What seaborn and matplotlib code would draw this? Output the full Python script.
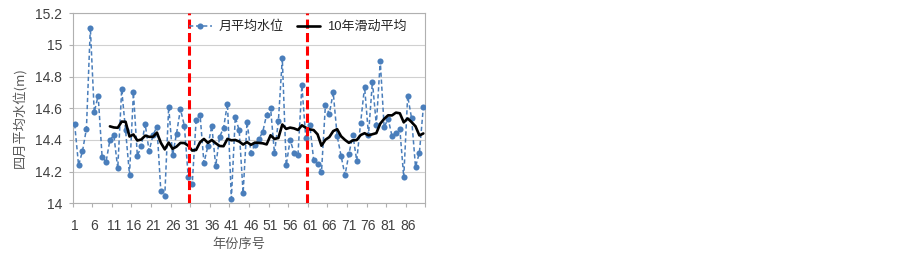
import numpy as np
import pandas as pd
import matplotlib
matplotlib.use("Agg")
import matplotlib.pyplot as plt
from matplotlib.ticker import FixedLocator
import seaborn as sns

# ---- data ----
years = list(range(1, 91))
water_level = [
    14.50, 14.24, 14.33, 14.47, 15.11, 14.575, 14.68, 14.295, 14.26, 14.40,
    14.43, 14.22, 14.72, 14.46, 14.18, 14.70, 14.30, 14.36, 14.50, 14.33,
    14.43, 14.485, 14.075, 14.045, 14.61, 14.305, 14.44, 14.595, 14.49, 14.165,
    14.12, 14.525, 14.56, 14.255, 14.36, 14.49, 14.235, 14.42, 14.475, 14.63,
    14.03, 14.545, 14.46, 14.065, 14.515, 14.32, 14.37, 14.405, 14.45, 14.56,
    14.605, 14.315, 14.52, 14.915, 14.24, 14.40, 14.32, 14.305, 14.745, 14.41,
    14.495, 14.275, 14.25, 14.196, 14.62, 14.565, 14.70, 14.425, 14.30, 14.178,
    14.31, 14.432, 14.27, 14.51, 14.737, 14.432, 14.768, 14.495, 14.899, 14.48,
    14.535, 14.425, 14.446, 14.468, 14.164, 14.678, 14.537, 14.23, 14.32, 14.608,
]
ma_window = 10
split_years = [30.2, 60.4]
xtick_labels = list(range(1, 87, 5))
yticks = [14.0, 14.2, 14.4, 14.6, 14.8, 15.0, 15.2]

series_name = "月平均水位"
ma_name = "10年滑动平均"
xlabel = "年份序号"
ylabel = "四月平均水位(m)"

df = pd.DataFrame({"year": years, "level": water_level})
df["ma"] = df["level"].rolling(ma_window).mean()

# ---- style ----
sns.set_style("white")
plt.rcParams["font.family"] = ["Liberation Sans", "Noto Sans CJK SC", "DejaVu Sans"]

fig = plt.figure(figsize=(9.03, 2.54), dpi=100)
ax = fig.add_axes([72.7 / 903, 1 - 203.3 / 254, 352.6 / 903, 190.0 / 254])

blue = "#4A7EBB"
sns.lineplot(data=df, x="year", y="level", ax=ax, color=blue, linewidth=1.1,
             marker="o", markersize=4.4, markeredgewidth=0, label=series_name,
             zorder=3)
ax.lines[0].set_linestyle((0, (2.8, 1.8)))

sns.lineplot(data=df.dropna(), x="year", y="ma", ax=ax, color="black",
             linewidth=1.9, label=ma_name, zorder=4)

for xs in split_years:
    ax.axvline(xs, color="#FF0000", linewidth=2.2, linestyle=(0, (3.0, 1.4)),
               zorder=5)

ax.set_xlim(0.5, 90.5)
ax.set_ylim(14.0, 15.2)
ax.yaxis.set_major_locator(FixedLocator(yticks))
ax.set_yticklabels([f"{v:g}" for v in yticks])
ax.xaxis.set_major_locator(FixedLocator(xtick_labels))
ax.set_xticklabels([str(v) for v in xtick_labels])
ax.xaxis.set_minor_locator(FixedLocator(np.arange(0.5, 91, 5)))

ax.grid(axis="y", color="#D0D0D0", linewidth=0.8)
ax.grid(axis="x", visible=False)
for s in ax.spines.values():
    s.set_color("#B0B0B0")
    s.set_linewidth(0.8)

txt = "#404040"
ax.tick_params(axis="x", which="major", length=0, pad=11, labelsize=10,
               labelcolor=txt)
ax.tick_params(axis="x", which="minor", length=3, width=0.8, color="#B0B0B0",
               direction="out", bottom=True)
ax.tick_params(axis="y", which="major", length=2.7, width=0.8, color="#B0B0B0",
               direction="out", left=True, pad=5, labelsize=10, labelcolor=txt)

ax.set_xlabel(xlabel, fontsize=9.5, color="#595959",
              family=["Noto Sans CJK SC", "DejaVu Sans"])
ax.xaxis.set_label_coords(0.472, -0.185)
ax.set_ylabel(ylabel, fontsize=9.5, color="#595959",
              family=["Noto Sans CJK SC", "DejaVu Sans"])
ax.yaxis.set_label_coords(-0.131, 0.45)

leg = ax.legend(loc="center left", bbox_to_anchor=(0.329, 0.928), ncol=2,
                frameon=False, fontsize=9.4, handlelength=1.8,
                handletextpad=0.5, columnspacing=1.0, borderaxespad=0,
                borderpad=0)
for t in leg.get_texts():
    t.set_color("#262626")

fig.savefig("out.png", dpi=100, facecolor="white")
